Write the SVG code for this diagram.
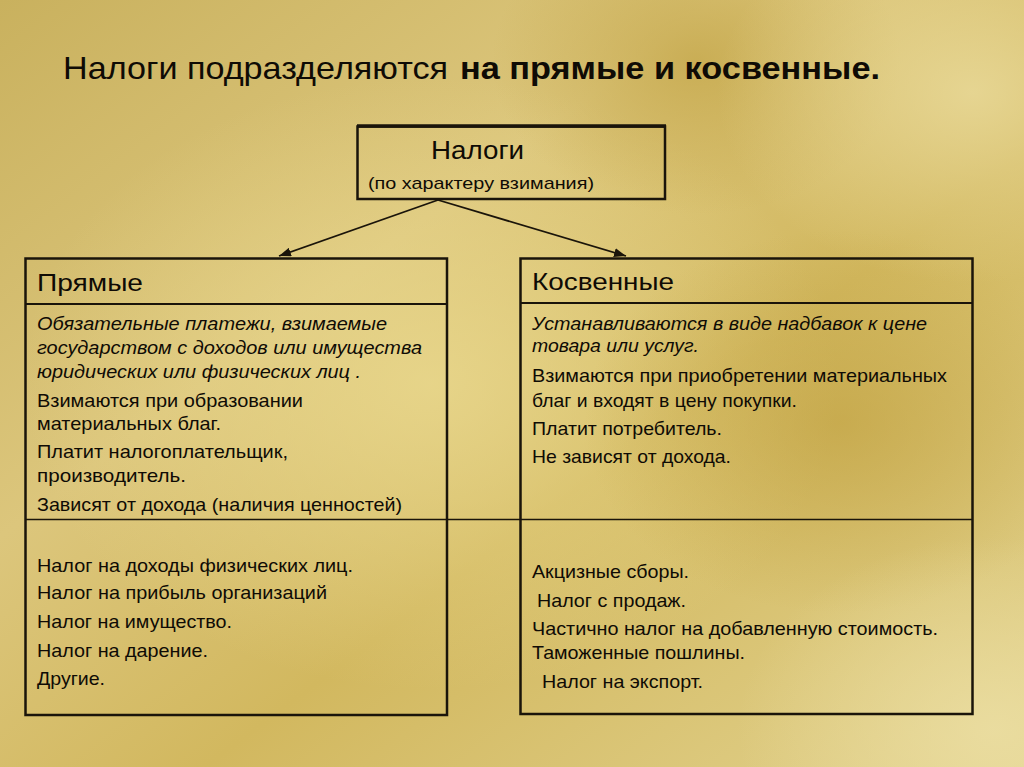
<svg xmlns="http://www.w3.org/2000/svg" width="1024" height="767" viewBox="0 0 1024 767">
<defs>
<linearGradient id="bg" x1="0" y1="0" x2="1" y2="1">
<stop offset="0" stop-color="#c9b15e"/>
<stop offset="0.35" stop-color="#dcc67c"/>
<stop offset="0.6" stop-color="#d2b85f"/>
<stop offset="1" stop-color="#e2d28e"/>
</linearGradient>
<radialGradient id="hl1" cx="0.42" cy="0.5" r="0.4">
<stop offset="0" stop-color="#ead98f" stop-opacity="0.8"/>
<stop offset="1" stop-color="#ead98f" stop-opacity="0"/>
</radialGradient>
<radialGradient id="dk1" cx="0.82" cy="0.55" r="0.25">
<stop offset="0" stop-color="#bf9f3e" stop-opacity="0.6"/>
<stop offset="1" stop-color="#bf9f3e" stop-opacity="0"/>
</radialGradient>
<radialGradient id="dk2" cx="0.68" cy="0.08" r="0.2">
<stop offset="0" stop-color="#c2a446" stop-opacity="0.7"/>
<stop offset="1" stop-color="#c2a446" stop-opacity="0"/>
</radialGradient>
<radialGradient id="hl2" cx="0.95" cy="0.12" r="0.25">
<stop offset="0" stop-color="#eadb9c" stop-opacity="0.8"/>
<stop offset="1" stop-color="#eadb9c" stop-opacity="0"/>
</radialGradient>
<radialGradient id="hl3" cx="0.97" cy="0.95" r="0.25">
<stop offset="0" stop-color="#ecdfa4" stop-opacity="0.8"/>
<stop offset="1" stop-color="#ecdfa4" stop-opacity="0"/>
</radialGradient>
<marker id="ah" viewBox="0 0 12 9" refX="12" refY="4.5" markerWidth="12" markerHeight="9" markerUnits="userSpaceOnUse" orient="auto">
<path d="M0,0 L12,4.5 L0,9 Z" fill="#1a140a"/>
</marker>
<style>
.t{font-family:"Liberation Sans",Arial,sans-serif;fill:#0f0b05}
.b{font-size:18.5px}
.i{font-size:18.5px;font-style:italic}
.h{font-size:24.5px}
.box{fill:none;stroke:#1a140a;stroke-width:2.5}
.div{stroke:#1a140a;stroke-width:2}
</style>
</defs>
<rect width="1024" height="767" fill="url(#bg)"/>
<rect width="1024" height="767" fill="url(#hl1)"/>
<rect width="1024" height="767" fill="url(#dk1)"/>
<rect width="1024" height="767" fill="url(#dk2)"/>
<rect width="1024" height="767" fill="url(#hl2)"/>
<rect width="1024" height="767" fill="url(#hl3)"/>

<g id="title">
<text class="t" x="63" y="79" font-size="32" textLength="385" lengthAdjust="spacingAndGlyphs">Налоги подразделяются</text>
<text class="t" x="460" y="79" font-size="32" font-weight="bold" textLength="420" lengthAdjust="spacingAndGlyphs">на прямые и косвенные.</text>
</g>

<g id="connectors">
<line x1="438" y1="200" x2="279" y2="256" stroke="#1a140a" stroke-width="1.8" marker-end="url(#ah)"/>
<line x1="438" y1="200" x2="626" y2="256" stroke="#1a140a" stroke-width="1.8" marker-end="url(#ah)"/>
<line x1="25" y1="519.5" x2="973" y2="519.5" stroke="#1a140a" stroke-width="1.6"/>
</g>

<g id="node-taxes">
<rect class="box" x="357.5" y="126.5" width="307.5" height="72.5"/>
<line x1="357" y1="126" x2="666" y2="126" stroke="#1a140a" stroke-width="3.5"/>
<text class="t" x="431" y="159" font-size="26" textLength="93" lengthAdjust="spacingAndGlyphs">Налоги</text>
<text class="t" x="368" y="189" font-size="17" textLength="226" lengthAdjust="spacingAndGlyphs">(по характеру взимания)</text>
</g>

<g id="node-direct">
<rect class="box" x="25.5" y="258.5" width="421.5" height="456.5"/>
<line class="div" x1="25" y1="304" x2="447" y2="304"/>
<text class="t h" x="37" y="291" textLength="106" lengthAdjust="spacingAndGlyphs">Прямые</text>
<text class="t i" x="37" y="330" textLength="350" lengthAdjust="spacingAndGlyphs">Обязательные платежи, взимаемые</text>
<text class="t i" x="37" y="354" textLength="385" lengthAdjust="spacingAndGlyphs">государством с доходов или имущества</text>
<text class="t i" x="37" y="378" textLength="324" lengthAdjust="spacingAndGlyphs">юридических или физических лиц .</text>
<text class="t b" x="37" y="407" textLength="266" lengthAdjust="spacingAndGlyphs">Взимаются при образовании</text>
<text class="t b" x="37" y="430" textLength="184" lengthAdjust="spacingAndGlyphs">материальных благ.</text>
<text class="t b" x="37" y="458" textLength="251" lengthAdjust="spacingAndGlyphs">Платит налогоплательщик,</text>
<text class="t b" x="37" y="482" textLength="149" lengthAdjust="spacingAndGlyphs">производитель.</text>
<text class="t b" x="37" y="511" textLength="365" lengthAdjust="spacingAndGlyphs">Зависят от дохода (наличия ценностей)</text>
<text class="t b" x="37" y="572" textLength="316" lengthAdjust="spacingAndGlyphs">Налог на доходы физических лиц.</text>
<text class="t b" x="37" y="599" textLength="290" lengthAdjust="spacingAndGlyphs">Налог на прибыль организаций</text>
<text class="t b" x="37" y="628" textLength="195" lengthAdjust="spacingAndGlyphs">Налог на имущество.</text>
<text class="t b" x="37" y="657" textLength="171" lengthAdjust="spacingAndGlyphs">Налог на дарение.</text>
<text class="t b" x="37" y="685" textLength="68" lengthAdjust="spacingAndGlyphs">Другие.</text>
</g>

<g id="node-indirect">
<rect class="box" x="520.5" y="258.5" width="452" height="455.5"/>
<line class="div" x1="520" y1="303" x2="973" y2="303"/>
<text class="t h" x="532" y="290" textLength="142" lengthAdjust="spacingAndGlyphs">Косвенные</text>
<text class="t i" x="532" y="330" textLength="395" lengthAdjust="spacingAndGlyphs">Устанавливаются в виде надбавок к цене</text>
<text class="t i" x="532" y="352" textLength="167" lengthAdjust="spacingAndGlyphs">товара или услуг.</text>
<text class="t b" x="532" y="382" textLength="415" lengthAdjust="spacingAndGlyphs">Взимаются при приобретении материальных</text>
<text class="t b" x="532" y="407" textLength="265" lengthAdjust="spacingAndGlyphs">благ и входят в цену покупки.</text>
<text class="t b" x="532" y="435" textLength="190" lengthAdjust="spacingAndGlyphs">Платит потребитель.</text>
<text class="t b" x="532" y="463" textLength="199" lengthAdjust="spacingAndGlyphs">Не зависят от дохода.</text>
<text class="t b" x="532" y="578" textLength="157" lengthAdjust="spacingAndGlyphs">Акцизные сборы.</text>
<text class="t b" x="537" y="607" textLength="149" lengthAdjust="spacingAndGlyphs">Налог с продаж.</text>
<text class="t b" x="532" y="635" textLength="406" lengthAdjust="spacingAndGlyphs">Частично налог на добавленную стоимость.</text>
<text class="t b" x="532" y="659" textLength="213" lengthAdjust="spacingAndGlyphs">Таможенные пошлины.</text>
<text class="t b" x="542" y="688" textLength="161" lengthAdjust="spacingAndGlyphs">Налог на экспорт.</text>
</g>
</svg>
